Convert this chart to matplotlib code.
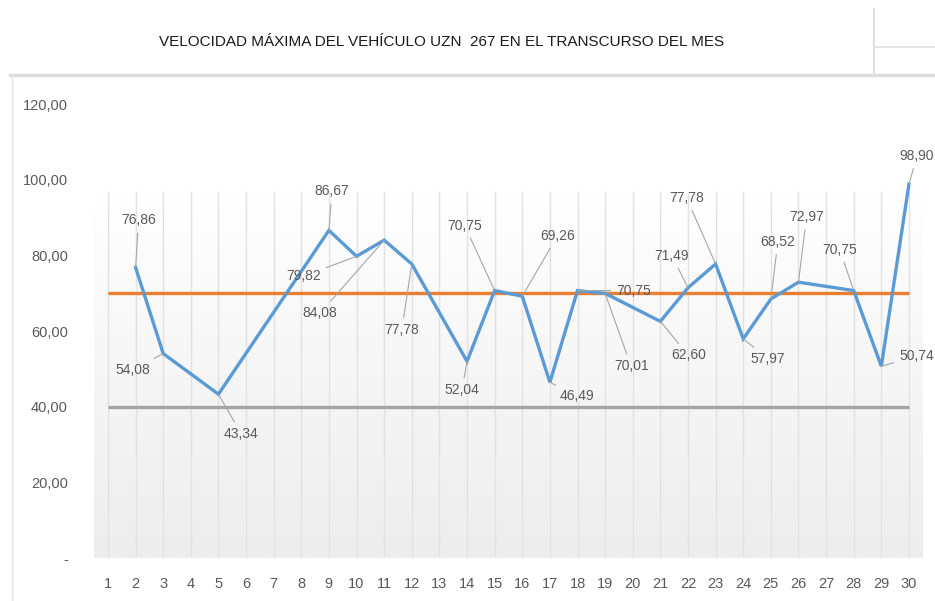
import numpy as np
import matplotlib
matplotlib.use("Agg")
import matplotlib.pyplot as plt
from matplotlib.ticker import FuncFormatter
from matplotlib.lines import Line2D

# datos (dias sin dato no se dibujan, la linea los une)
days = [2, 3, 5, 9, 10, 11, 12, 14, 15, 16, 17, 18, 19, 21, 22, 23, 24, 25, 26, 28, 29, 30]
speeds = [76.86, 54.08, 43.34, 86.67, 79.82, 84.08, 77.78, 52.04, 70.75, 69.26, 46.49,
          70.75, 70.01, 62.60, 71.49, 77.78, 57.97, 68.52, 72.97, 70.75, 50.74, 98.90]
all_days = list(range(1, 31))
upper_limit = 70
lower_limit = 40
y_ticks = [0, 20, 40, 60, 80, 100, 120]
title = "VELOCIDAD MÁXIMA DEL VEHÍCULO UZN  267 EN EL TRANSCURSO DEL MES"

# posicion de cada etiqueta respecto a su punto (pixeles)
label_offsets = [(3, 47), (-30, -16), (23, -40), (3, 39), (-53, -20), (-64, -73),
                 (-10, -66), (-5, -29), (-30, 65), (35, 60), (27, -14), (56, 0),
                 (26, -73), (28, -34), (-16, 32), (-29, 66), (25, -20), (7, 57),
                 (8, 65), (-14, 41), (35, 10), (8, 28)]

BLUE = "#5B9BD5"
ORANGE = "#ED7D31"
GRAY = "#A5A5A5"
TEXT = "#595959"
FONT = ["Liberation Sans Narrow", "Liberation Sans", "DejaVu Sans"]

plt.rcParams["font.family"] = FONT

fig = plt.figure(figsize=(9.35, 6.01), dpi=100)
ax = fig.add_axes([0.1007, 0.0715, 0.8862, 0.7548])
ax.set_xlim(0.5, 30.5)
ax.set_ylim(0, 120)

# fondo degradado del area de trazado (blanco arriba, gris claro abajo)
grad = np.linspace(0, 1, 256).reshape(-1, 1)
cmap = matplotlib.colors.LinearSegmentedColormap.from_list("bg", ["#ffffff", "#ededed"])
ax.imshow(grad, extent=[0.5, 30.5, 0, 97], aspect="auto", cmap=cmap, zorder=0,
          vmin=0, vmax=1)
ax.vlines(all_days, 0, 97, color="#e2e2e2", lw=1, zorder=1)

ax.plot(all_days, [upper_limit] * len(all_days), color=ORANGE, lw=2.4, zorder=2,
        solid_capstyle="butt")
ax.plot(all_days, [lower_limit] * len(all_days), color=GRAY, lw=2.4, zorder=2,
        solid_capstyle="butt")
ax.plot(days, speeds, color=BLUE, lw=2.4, zorder=3, solid_joinstyle="miter")

for d, v, off in zip(days, speeds, label_offsets):
    ax.annotate(f"{v:.2f}".replace(".", ","), xy=(d, v), xytext=off,
                textcoords="offset pixels", ha="center", va="center",
                fontsize=10, color=TEXT, zorder=4,
                arrowprops=dict(arrowstyle="-", color="#a6a6a6", lw=0.8,
                                shrinkA=2, shrinkB=0))

ax.set_xticks(all_days)
ax.set_yticks(y_ticks)
ax.yaxis.set_major_formatter(FuncFormatter(
    lambda v, p: "-" if v == 0 else f"{v:.2f}".replace(".", ",")))
ax.tick_params(axis="y", length=0, pad=19, labelsize=10.5, labelcolor=TEXT)
ax.tick_params(axis="x", length=0, pad=14, labelsize=10.5, labelcolor=TEXT)
for s in ax.spines.values():
    s.set_visible(False)

fig.text(442 / 935, 1 - 42 / 601, title, ha="center", va="center",
         fontsize=11, color="#1a1a1a")

# bordes de celdas de la hoja
fig.add_artist(Line2D([10 / 935, 1], [1 - 75 / 601] * 2, color="#dcdcdc", lw=2.5))
fig.add_artist(Line2D([12 / 935] * 2, [0, 1 - 75 / 601], color="#e6e6e6", lw=1))
fig.add_artist(Line2D([874 / 935] * 2, [1 - 9 / 601, 1 - 75 / 601], color="#e0e0e0", lw=1.5))
fig.add_artist(Line2D([874 / 935, 1], [1 - 47 / 601] * 2, color="#e6e6e6", lw=1.5))

fig.savefig("out.png", dpi=100)
